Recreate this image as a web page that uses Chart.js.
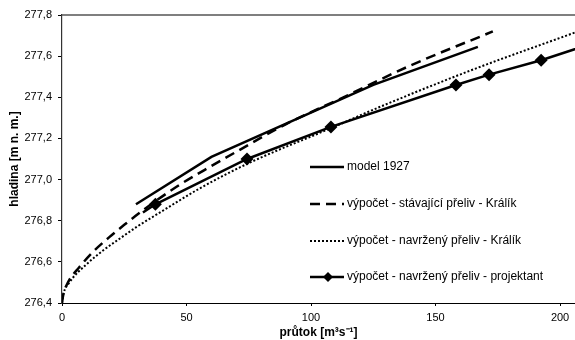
<!DOCTYPE html>
<html>
<head>
<meta charset="utf-8">
<script src="https://cdn.jsdelivr.net/npm/chart.js@4/dist/chart.umd.min.js"></script>
<style>
  html, body { margin: 0; padding: 0; background: #fff; }
</style>
</head>
<body>
<canvas id="myChart" width="575" height="340"></canvas>
<script>
// rating curves: discharge (m3/s) vs. water level (m n. m.)
const seriesLabels = [
    'model 1927',
    'výpočet - stávající přeliv - Králík',
    'výpočet - navržený přeliv - Králík',
    'výpočet - navržený přeliv - projektant'
];

const modelQ = [29.7, 60, 125, 167];
const modelH = [276.88, 277.11, 277.46, 277.645];

const stavajiciQ = [0, 0.5, 2.4, 7, 13, 19, 25, 33, 46, 57, 70, 90, 113, 140, 173];
const stavajiciH = [276.40, 276.44, 276.50, 276.575, 276.655, 276.72, 276.78, 276.855, 276.965, 277.045, 277.135, 277.27, 277.40, 277.555, 277.72];

const navrzenyQ = [0, 0.5, 3, 10, 17, 24, 30, 40, 55, 75, 108, 128, 164, 206];
const navrzenyH = [276.40, 276.44, 276.50, 276.59, 276.66, 276.72, 276.77, 276.845, 276.955, 277.08, 277.25, 277.355, 277.53, 277.715];

const projektQ = [32.5, 37.5, 74.3, 108, 158.2, 171.5, 192.4, 215];
const projektH = [276.84, 276.88, 277.10, 277.256, 277.46, 277.51, 277.58, 277.67];

const xTickValues = [0, 50, 100, 150, 200];
const yTicksMin = 276.4, yTicksMax = 277.8, yTickStep = 0.2;
const xMax = 206;

function toPoints(xs, ys) {
    return xs.map((x, i) => ({ x: x, y: ys[i] }));
}

const fontFamily = 'Arial, "Liberation Sans", sans-serif';

// legend drawn inside the plot area, one row per series
const insideLegend = {
    id: 'insideLegend',
    afterDraw(chart) {
        const ctx = chart.ctx;
        const rows = [167, 204, 241, 277];
        const x0 = 310, x1 = 344;
        ctx.save();
        chart.data.datasets.forEach((ds, i) => {
            const y = rows[i];
            ctx.beginPath();
            ctx.strokeStyle = '#000';
            ctx.lineWidth = ds.borderWidth;
            ctx.setLineDash(ds.borderDash || []);
            ctx.moveTo(x0, y);
            ctx.lineTo(x1, y);
            ctx.stroke();
            ctx.setLineDash([]);
            if (ds.pointStyle === 'rectRot') {
                const cx = (x0 + x1) / 2 + 1;
                const r = 5;
                ctx.beginPath();
                ctx.moveTo(cx, y - r);
                ctx.lineTo(cx + r, y);
                ctx.lineTo(cx, y + r);
                ctx.lineTo(cx - r, y);
                ctx.closePath();
                ctx.fillStyle = '#000';
                ctx.fill();
            }
            ctx.fillStyle = '#000';
            ctx.font = '12px ' + fontFamily;
            ctx.textBaseline = 'middle';
            ctx.textAlign = 'left';
            ctx.fillText(ds.label, x1 + 3, y);
        });
        // frame line along the top of the plot
        const a = chart.chartArea;
        ctx.beginPath();
        ctx.strokeStyle = '#555';
        ctx.lineWidth = 1.5;
        ctx.moveTo(a.left, a.top);
        ctx.lineTo(a.right, a.top);
        ctx.stroke();
        ctx.restore();
    }
};

const ctx = document.getElementById('myChart');
const myChart = new Chart(ctx, {
    type: 'line',
    data: {
        datasets: [{
            label: seriesLabels[0],
            data: toPoints(modelQ, modelH),
            borderColor: '#000',
            borderWidth: 2.5,
            pointRadius: 0
        }, {
            label: seriesLabels[1],
            data: toPoints(stavajiciQ, stavajiciH),
            borderColor: '#000',
            borderWidth: 2.5,
            borderDash: [10, 6],
            cubicInterpolationMode: 'monotone',
            pointRadius: 0
        }, {
            label: seriesLabels[2],
            data: toPoints(navrzenyQ, navrzenyH),
            borderColor: '#000',
            borderWidth: 2,
            borderDash: [2, 2],
            cubicInterpolationMode: 'monotone',
            pointRadius: 0
        }, {
            label: seriesLabels[3],
            data: toPoints(projektQ, projektH),
            borderColor: '#000',
            backgroundColor: '#000',
            borderWidth: 2.5,
            pointStyle: 'rectRot',
            pointRadius: projektQ.map((q, i) => (i === 0 || i === projektQ.length - 1) ? 0 : 6.5),
            pointBorderWidth: 0
        }]
    },
    options: {
        responsive: false,
        animation: false,
        layout: { padding: { top: 15, right: 0, left: 0, bottom: 0 } },
        plugins: {
            legend: { display: false },
            tooltip: { enabled: false }
        },
        scales: {
            x: {
                type: 'linear',
                min: 0,
                max: xMax,
                grid: { drawOnChartArea: false, tickLength: 3, color: '#000' },
                border: { color: '#000', width: 1 },
                ticks: {
                    color: '#000',
                    padding: 5,
                    maxRotation: 0,
                    autoSkip: false,
                    font: { family: fontFamily, size: 11 }
                },
                // fixed round ticks, nothing at the axis end
                afterBuildTicks(scale) {
                    scale.ticks = xTickValues.map(v => ({ value: v }));
                },
                title: {
                    display: true,
                    text: 'průtok [m³s⁻¹]',
                    color: '#000',
                    padding: { top: 0, bottom: 0 },
                    font: { family: fontFamily, size: 12, weight: 'bold' }
                },
                afterFit(scale) { scale.height = 37; }
            },
            y: {
                min: yTicksMin,
                max: yTicksMax,
                grid: { drawOnChartArea: false, tickLength: 4, color: '#000' },
                border: { color: '#333', width: 1.2 },
                ticks: {
                    stepSize: yTickStep,
                    color: '#000',
                    padding: 6,
                    font: { family: fontFamily, size: 11 },
                    callback: v => v.toFixed(1).replace('.', ',')
                },
                title: {
                    display: true,
                    text: 'hladina [m n. m.]',
                    color: '#000',
                    padding: { top: 7, bottom: 0 },
                    font: { family: fontFamily, size: 12, weight: 'bold' }
                },
                afterFit(scale) { scale.width = 62; }
            }
        }
    },
    plugins: [insideLegend]
});
</script>
</body>
</html>
